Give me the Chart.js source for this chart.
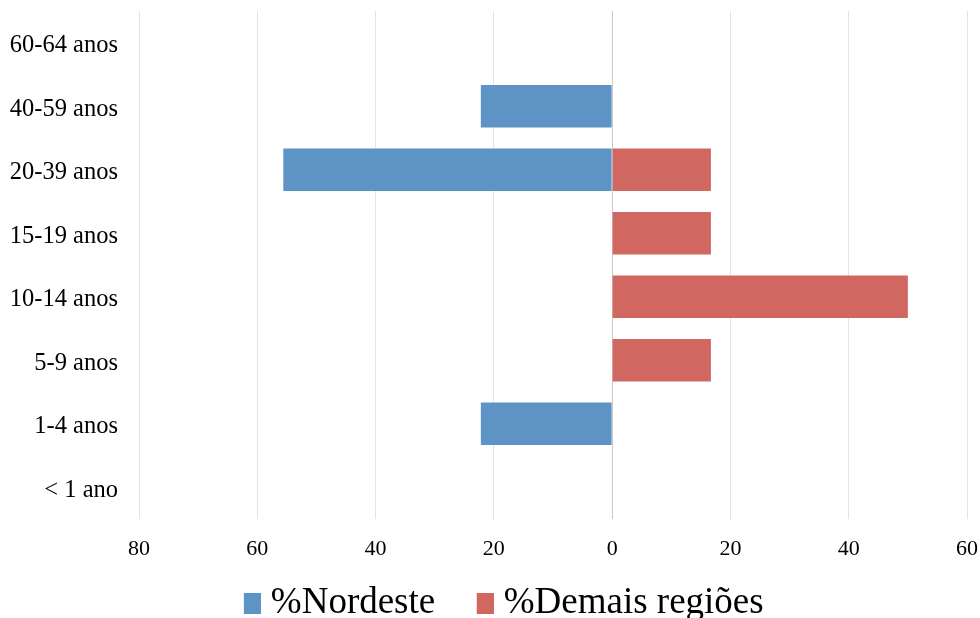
<!DOCTYPE html>
<html>
<head>
<meta charset="utf-8">
<script src="https://cdn.jsdelivr.net/npm/chart.js@4.4.1/dist/chart.umd.min.js"></script>
<style>
html,body{margin:0;padding:0;background:#fff;overflow:hidden;}
#wrap{position:relative;width:980px;height:632px;}
</style>
</head>
<body>
<div id="wrap"><canvas id="c"></canvas></div>
<script>
const categories = ["60-64 anos","40-59 anos","20-39 anos","15-19 anos","10-14 anos","5-9 anos","1-4 anos","< 1 ano"];
const nordeste = [0, 22.2, 55.6, 0, 0, 0, 22.2, 0];
const demais = [0, 0, 16.7, 16.7, 50, 16.7, 0, 0];
const xTicks = [-80,-60,-40,-20,0,20,40,60];
const seriesNames = ['%Nordeste', '%Demais regiões'];
const seriesColors = ['#5E93C6', '#D06760'];

const serif = "'Liberation Serif','Times New Roman',serif";

function legendSwatch(color) {
  const c = document.createElement('canvas');
  c.width = 56; c.height = 21;
  const g = c.getContext('2d');
  g.fillStyle = color;
  g.fillRect(39, 0, 17, 21);
  return c;
}

new Chart(document.getElementById('c'), {
  type: 'bar',
  data: {
    labels: categories,
    datasets: [
      { label: seriesNames[0], data: nordeste.map(v => -v), backgroundColor: seriesColors[0], borderWidth: 0 },
      { label: seriesNames[1], data: demais, backgroundColor: seriesColors[1], borderWidth: 0 }
    ]
  },
  options: {
    indexAxis: 'y',
    responsive: true,
    maintainAspectRatio: false,
    animation: false,
    layout: { padding: { top: 11, left: 10, right: 13, bottom: 0 } },
    datasets: { bar: { barPercentage: 0.67, categoryPercentage: 1 } },
    plugins: {
      legend: {
        position: 'bottom',
        labels: {
          font: { family: serif, size: 37 },
          color: '#000',
          usePointStyle: true,
          pointStyleWidth: 39,
          boxHeight: 21,
          padding: 11,
          generateLabels: (chart) => {
            const items = Chart.defaults.plugins.legend.labels.generateLabels(chart);
            items.forEach((it, i) => { it.pointStyle = legendSwatch(seriesColors[i]); });
            return items;
          }
        }
      },
      tooltip: { enabled: false }
    },
    scales: {
      x: {
        min: -80, max: 60,
        afterBuildTicks: (s) => { s.ticks = xTicks.map(v => ({ value: v })); },
        afterFit: (s) => { s.paddingLeft = 0; s.paddingRight = 0; s.height = 55; },
        ticks: {
          callback: (v) => Math.abs(v),
          font: { family: serif, size: 22 },
          color: '#000',
          padding: 17,
          maxRotation: 0
        },
        grid: {
          drawTicks: false,
          color: (ctx) => ctx.tick && ctx.tick.value === 0 ? '#c8c8c8' : '#e4e4e4',
          lineWidth: 1
        },
        border: { display: false }
      },
      y: {
        stacked: true,
        afterFit: (s) => { s.width = 129; s.paddingTop = 0; s.paddingBottom = 0; },
        ticks: {
          font: { family: serif, size: 24.5 },
          color: '#000',
          padding: 21,
          labelOffset: 3
        },
        grid: { display: false, drawTicks: false },
        border: { display: false }
      }
    }
  }
});
</script>
</body>
</html>
